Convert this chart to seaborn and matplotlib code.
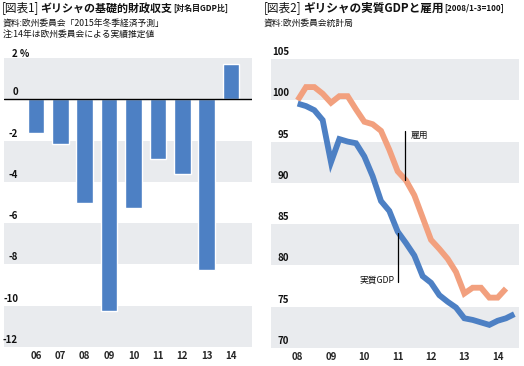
import numpy as np
import pandas as pd
import matplotlib
matplotlib.use("Agg")
import matplotlib.pyplot as plt
import matplotlib.transforms as mtransforms
import seaborn as sns

# --- data ---
years = ["06", "07", "08", "09", "10", "11", "12", "13", "14"]
balance = [-1.65, -2.15, -5.0, -10.25, -5.25, -2.9, -3.6, -8.25, 1.7]

gdp = [99.6, 99.3, 98.8, 97.6, 92.5, 95.3, 95.0, 94.8, 93.2, 90.8, 87.8, 86.6,
       84.1, 82.7, 81.2, 78.7, 77.9, 76.4, 75.6, 74.9, 73.6, 73.4, 73.1, 72.8,
       73.3, 73.6, 74.1]
employment = [100.0, 101.6, 101.6, 100.8, 99.7, 100.5, 100.5, 98.9, 97.4, 97.1,
              96.3, 94.0, 91.4, 90.3, 88.5, 85.8, 83.1, 82.0, 80.8, 79.2, 76.6,
              77.3, 77.3, 76.1, 76.1, 77.2]
year_ticks = [2008, 2009, 2010, 2011, 2012, 2013, 2014]
year_labels = ["08", "09", "10", "11", "12", "13", "14"]

BLUE = "#4d80c4"
ORANGE = "#f2a07e"
BAND = "#e9ebee"
INK = "#111111"

sns.set_theme(style="white")
plt.rcParams["font.family"] = ["Noto Sans CJK JP", "DejaVu Sans"]

W, H = 524, 366
fig = plt.figure(figsize=(W / 100, H / 100), dpi=100)
renderer = fig.canvas.get_renderer()


def ax_rect(x0, y0, x1, y1):
    return [x0 / W, 1 - y1 / H, (x1 - x0) / W, (y1 - y0) / H]


def ftext(x, y, s, **kw):
    return fig.text(x / W, 1 - y / H, s, va="center", ha="left", **kw)


def chain(x, y, parts, gap=1):
    # place text pieces one after another, left to right
    for s, kw in parts:
        t = ftext(x, y, s, **kw)
        bb = t.get_window_extent(renderer)
        x = bb.x1 + gap


def bands(ax, edges):
    for hi, lo in edges:
        ax.axhspan(lo, hi, color=BAND, lw=0, zorder=0)


def ylabels(ax, values, xpx, axx0, axw):
    tr = mtransforms.blended_transform_factory(ax.transAxes, ax.transData)
    off = mtransforms.offset_copy(tr, fig=fig, x=0, y=2, units="dots")
    for v in values:
        ax.text((xpx - axx0) / axw, v, f"{v:g}", transform=off,
                ha="right", va="bottom", fontsize=7, fontweight="bold", color=INK)


# ---------- left: primary balance ----------
axL = fig.add_axes(ax_rect(4, 58, 252, 347))
bands(axL, [(2, 0), (-2, -4), (-6, -8), (-10, -12)])
df_b = pd.DataFrame({"year": years, "balance": balance})
sns.barplot(data=df_b, x="year", y="balance", color=BLUE, saturation=1,
            width=0.68, ax=axL, zorder=2)
axL.axhline(0, color="black", lw=1, zorder=3)
axL.set_xlim(-1.31, 8.86)
axL.set_ylim(-12, 2)
axL.set_xlabel("")
axL.set_ylabel("")
axL.set_yticks([])
axL.tick_params(axis="x", length=0, pad=3, labelsize=7)
for t in axL.get_xticklabels():
    t.set_fontweight("bold")
for s in axL.spines.values():
    s.set_visible(False)
ylabels(axL, [0, -2, -4, -6, -8, -10, -12], 18, 4, 248)
ftext(12, 54, "2 %", fontsize=7, fontweight="bold", color=INK)

chain(2, 8, [("[図表1]", dict(fontsize=8.4, color=INK)),
             ("ギリシャの基礎的財政収支", dict(fontsize=7.9, fontweight="bold", color=INK)),
             ("[対名目GDP比]", dict(fontsize=5.8, fontweight="bold", color=INK))])
ftext(3, 23, "資料:欧州委員会「2015年冬季経済予測」", fontsize=6.3, color=INK)
ftext(3, 34, "注:14年は欧州委員会による実績推定値", fontsize=6.3, color=INK)

# ---------- right: GDP and employment ----------
axR = fig.add_axes(ax_rect(271, 59, 519, 348))
bands(axR, [(105, 100), (95, 90), (85, 80), (75, 70)])
q_gdp = 2008 + np.arange(len(gdp)) / 4
q_emp = 2008 + np.arange(len(employment)) / 4
sns.lineplot(x=q_emp, y=employment, ax=axR, color=ORANGE, lw=4.2,
             solid_capstyle="butt", solid_joinstyle="miter", zorder=2)
sns.lineplot(x=q_gdp, y=gdp, ax=axR, color=BLUE, lw=4.2,
             solid_capstyle="butt", solid_joinstyle="miter", zorder=3)
axR.set_xlim(2007.2, 2014.64)
axR.set_ylim(70, 105)
axR.set_xticks(year_ticks)
axR.set_xticklabels(year_labels)
axR.set_yticks([])
axR.tick_params(axis="x", length=0, pad=3, labelsize=7)
for t in axR.get_xticklabels():
    t.set_fontweight("bold")
for s in axR.spines.values():
    s.set_visible(False)
ylabels(axR, [105, 100, 95, 90, 85, 80, 75, 70], 289, 271, 248)

# annotations
axR.plot([2011.23, 2011.23], [96.3, 90.3], color="black", lw=0.9, zorder=4)
axR.text(2011.38, 95.7, "雇用", fontsize=6.3, ha="left", va="center", color=INK)
axR.plot([2011.0, 2011.0], [83.9, 78.0], color="black", lw=0.9, zorder=4)
axR.text(2010.9, 78.2, "実質GDP", fontsize=6.3, ha="right", va="center", color=INK)

chain(264, 8, [("[図表2]", dict(fontsize=8.4, color=INK)),
               ("ギリシャの実質GDPと雇用", dict(fontsize=8.4, fontweight="bold", color=INK)),
               ("[2008/1-3=100]", dict(fontsize=5.8, fontweight="bold", color=INK))])
ftext(264, 23, "資料:欧州委員会統計局", fontsize=6.3, color=INK)

fig.savefig("out.png", dpi=100)
